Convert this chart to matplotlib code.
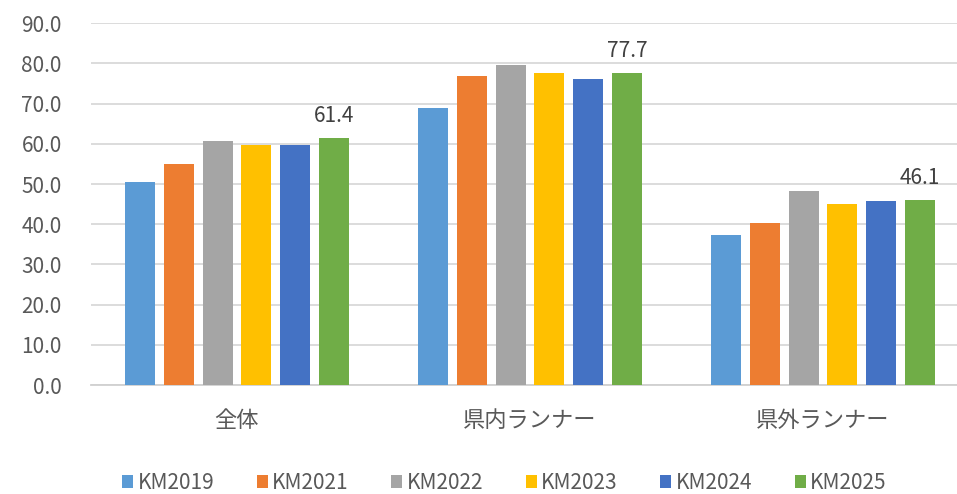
import matplotlib
matplotlib.use("Agg")
import matplotlib.pyplot as plt
import numpy as np

plt.rcParams['font.family'] = ['Noto Sans CJK JP', 'DejaVu Sans']

categories = ["全体", "県内ランナー", "県外ランナー"]
series_names = ["KM2019", "KM2021", "KM2022", "KM2023", "KM2024", "KM2025"]
km2019 = [50.6, 68.9, 37.4]
km2021 = [55.1, 76.8, 40.3]
km2022 = [60.8, 79.6, 48.2]
km2023 = [59.6, 77.6, 45.1]
km2024 = [59.8, 76.1, 45.8]
km2025 = [61.4, 77.7, 46.1]
series_values = [km2019, km2021, km2022, km2023, km2024, km2025]
colors = ["#5B9BD5", "#ED7D31", "#A5A5A5", "#FFC000", "#4472C4", "#70AD47"]
yticks = [0, 10, 20, 30, 40, 50, 60, 70, 80, 90]

W, H = 957, 494
fig = plt.figure(figsize=(W / 100, H / 100), dpi=100)
ax = fig.add_axes([91 / W, (H - 385) / H, (957 - 91) / W, (385 - 23.3) / H])

x = np.arange(len(categories))
step = 0.1324
width = 0.1024
for k, (name, vals, c) in enumerate(zip(series_names, series_values, colors)):
    pos = x + (k - 2.5) * step
    ax.bar(pos, vals, width=width, color=c, label=name, zorder=3)
    if name == "KM2025":
        for p, v in zip(pos, vals):
            ax.annotate(f"{v:.1f}", (p, v), xytext=(0, 8), textcoords="offset points",
                        ha="center", va="bottom", fontsize=15, color="#404040")

ax.set_ylim(0, 90)
ax.set_xlim(-0.498, 2.457)
ax.set_yticks(yticks)
ax.set_yticklabels([f"{v:.1f}" for v in yticks])
ax.set_xticks(x)
ax.set_xticklabels(categories)
ax.yaxis.grid(True, color="#d9d9d9", linewidth=1.3, zorder=0)
ax.set_axisbelow(True)
for s in ["top", "right", "left"]:
    ax.spines[s].set_visible(False)
ax.spines["bottom"].set_color("#d0d0d0")
ax.spines["bottom"].set_linewidth(1.3)
ax.tick_params(axis="y", length=0, pad=21, labelsize=15, labelcolor="#595959")
ax.tick_params(axis="x", length=0, pad=17, labelsize=16, labelcolor="#595959")

fig.legend(loc="center", bbox_to_anchor=(0.527, 1 - 483 / H), ncol=6, frameon=False,
           fontsize=15, handlelength=0.53, handleheight=0.53, handletextpad=0.2,
           columnspacing=2.05, labelcolor="#595959")

fig.savefig("out.png", dpi=100)
